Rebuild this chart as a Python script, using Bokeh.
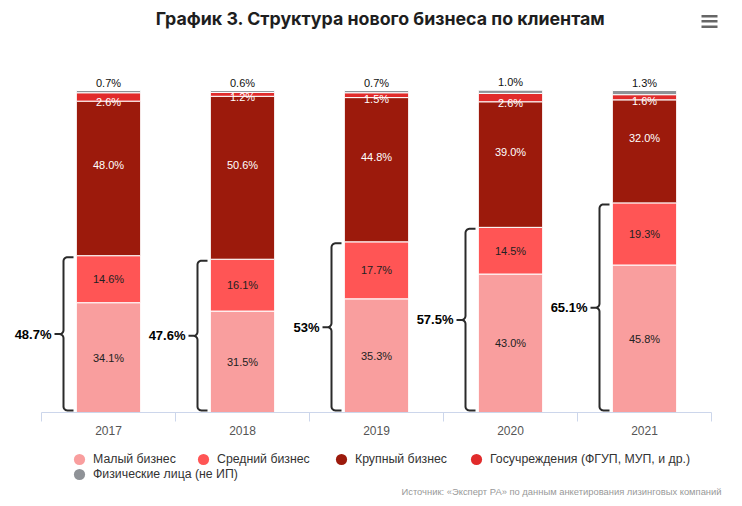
import math
from bokeh.plotting import figure
from bokeh.layouts import column
from bokeh.models import (ColumnDataSource, Range1d, FixedTicker, Label, Legend,
                          LegendItem, BoxAnnotation)
from bokeh.core.properties import value
from bokeh.embed import file_html
from bokeh.resources import INLINE

# ---------------- data ----------------
years = ["2017", "2018", "2019", "2020", "2021"]
small = [34.1, 31.5, 35.3, 43.0, 45.8]
medium = [14.6, 16.1, 17.7, 14.5, 19.3]
large = [48.0, 50.6, 44.8, 39.0, 32.0]
gov = [2.6, 1.2, 1.5, 2.6, 1.6]
phys = [0.7, 0.6, 0.7, 1.0, 1.3]
combined_labels = ["48.7%", "47.6%", "53%", "57.5%", "65.1%"]
series_names = ["Малый бизнес", "Средний бизнес", "Крупный бизнес",
                "Госучреждения (ФГУП, МУП, и др.)", "Физические лица (не ИП)"]
colors = ["#F99E9E", "#FF5555", "#9C1A0C", "#E12B2B", "#8F9297"]
title_text = "График 3. Структура нового бизнеса по клиентам"
source_text = "Источник: «Эксперт РА» по данным анкетирования лизинговых компаний"

# ---------------- layout ----------------
W = 742
H_MAIN = 440
H_LEG = 66
PX_X = 134.0      # px per category
PX_Y = 3.22       # px per percent
X0_PX = 108       # px of first category centre from frame left
FRAME_H = 412
BAR_W = 0.48

ux = 1.0 / PX_X
uy = 1.0 / PX_Y

p = figure(width=W, height=H_MAIN, output_backend="svg", toolbar_location=None,
           x_range=Range1d(-X0_PX / PX_X, (W - X0_PX) / PX_X),
           y_range=Range1d(0, FRAME_H / PX_Y),
           y_axis_location=None,
           min_border_left=0, min_border_right=0, min_border_top=0,
           min_border_bottom=H_MAIN - FRAME_H)
p.outline_line_color = None
p.xgrid.grid_line_color = None
p.ygrid.grid_line_color = None
p.background_fill_color = "white"

xs = list(range(len(years)))
src = ColumnDataSource(dict(x=xs, small=small, medium=medium, large=large,
                            gov=gov, phys=phys))
stackers = ["small", "medium", "large", "gov", "phys"]
p.vbar_stack(stackers, x="x", width=BAR_W, color=colors, line_color="white",
             line_width=1, source=src)

# ---------------- axis ----------------
ax = p.xaxis[0]
ax.ticker = FixedTicker(ticks=xs, minor_ticks=[i - 0.5 for i in range(len(years) + 1)])
ax.major_label_overrides = {i: y for i, y in enumerate(years)}
ax.bounds = (-0.5, len(years) - 0.5)
ax.axis_line_color = "#ccd6eb"
ax.axis_line_width = 1
ax.major_tick_line_color = None
ax.major_tick_out = 0
ax.major_tick_in = 0
ax.minor_tick_line_color = "#ccd6eb"
ax.minor_tick_out = 9
ax.minor_tick_in = 0
ax.major_label_standoff = 4
ax.major_label_text_font = "Liberation Sans"
ax.major_label_text_font_size = "12px"
ax.major_label_text_color = "#555555"

# ---------------- segment labels ----------------
c1 = [s for s in small]
c2 = [s + m for s, m in zip(small, medium)]
c3 = [a + l for a, l in zip(c2, large)]
c4 = [a + g for a, g in zip(c3, gov)]
c5 = [a + f for a, f in zip(c4, phys)]

def fmt(v):
    return f"{v:.1f}%"

font = value("Liberation Sans")
fs = value("11px")

p.text(x=xs + xs, y=[v / 2 for v in small] + [(a + b) / 2 for a, b in zip(c1, c2)],
       text=[fmt(v) for v in small] + [fmt(v) for v in medium],
       text_font=font, text_font_size=fs, text_align="center",
       text_baseline="middle", text_color="#222222")
p.text(x=xs, y=[(a + b) / 2 for a, b in zip(c2, c3)], text=[fmt(v) for v in large],
       text_font=font, text_font_size=fs, text_align="center",
       text_baseline="middle", text_color="white", y_offset=-13)
p.text(x=xs, y=c3, text=[fmt(v) for v in gov],
       text_font=font, text_font_size=fs, text_align="center",
       text_baseline="middle", text_color="white", y_offset=1)
p.text(x=xs, y=c5, text=[fmt(v) for v in phys],
       text_font=font, text_font_size=fs, text_align="center",
       text_baseline="bottom", text_color="#111111", y_offset=-2)

# ---------------- braces ----------------
R = 4  # corner radius px
def arc(cx, cy, a0, a1, n=6):
    pts = []
    for k in range(n + 1):
        t = math.radians(a0 + (a1 - a0) * k / n)
        pts.append((cx + R * ux * math.cos(t), cy + R * uy * math.sin(t)))
    return pts

brace_xs, brace_ys = [], []
for i, top in zip(xs, c2):
    xv = i - 45 * ux
    xtip = i - 35 * ux
    xnib = i - 54 * ux
    t = top - 1.5 * uy
    b = 0 + 2 * uy
    mid = top / 2
    pts = [(xtip, t)]
    pts += arc(xv + R * ux, t - R * uy, 90, 180)
    pts += arc(xv - R * ux, mid + R * uy, 0, -90)
    pts += [(xnib, mid), (xv - R * ux, mid)]
    pts += arc(xv - R * ux, mid - R * uy, 90, 0)
    pts += arc(xv + R * ux, b + R * uy, 180, 270)
    pts += [(xtip, b)]
    brace_xs.append([q[0] for q in pts])
    brace_ys.append([q[1] for q in pts])
p.multi_line(xs=brace_xs, ys=brace_ys, line_color="#2a2a2a", line_width=2)

p.text(x=[i - 54 * ux for i in xs], y=[v / 2 for v in c2], text=combined_labels,
       text_font=font, text_font_size=value("13px"), text_font_style="bold",
       text_align="right", text_baseline="middle", text_color="#000000", x_offset=-3)

# ---------------- title / menu ----------------
p.add_layout(Label(x=380, y=FRAME_H - 18, x_units="screen", y_units="screen",
                   text=title_text, text_align="center", text_baseline="middle",
                   text_font="Inter", text_font_size="17.8px", text_font_style="bold",
                   text_color="#1e1e1e"))
for yy in (15.7, 20.8, 26.2):
    p.add_layout(BoxAnnotation(left=701, right=717, top=FRAME_H - yy + 1.3,
                               bottom=FRAME_H - yy - 1.3,
                               left_units="screen", right_units="screen",
                               top_units="screen", bottom_units="screen",
                               fill_color="#666666", fill_alpha=1, line_color=None))

# ---------------- legend figure ----------------
q = figure(width=W, height=H_LEG, output_backend="svg", toolbar_location=None,
           x_range=Range1d(0, 1), y_range=Range1d(0, 1),
           x_axis_location=None, y_axis_location=None,
           min_border_left=0, min_border_right=0, min_border_top=0,
           min_border_bottom=0)
q.outline_line_color = None
q.xgrid.grid_line_color = None
q.ygrid.grid_line_color = None

nan = float("nan")
legend_locs = [(65, 33), (189, 33), (327, 33), (462, 33), (65, 18)]
for name, col, loc in zip(series_names, colors, legend_locs):
    r = q.scatter(x=[nan], y=[nan], marker="circle", size=11, fill_color=col,
                  line_color=None)
    leg = Legend(items=[LegendItem(label=name, renderers=[r])], location=loc,
                 orientation="horizontal", padding=0, spacing=0, margin=0,
                 glyph_width=28, glyph_height=28, label_standoff=0,
                 border_line_color=None, background_fill_alpha=0,
                 label_text_font="Liberation Sans", label_text_font_size="12.3px",
                 label_text_color="#333333")
    q.add_layout(leg)

q.add_layout(Label(x=721, y=H_LEG - 51, x_units="screen", y_units="screen",
                   text=source_text, text_align="right", text_baseline="middle",
                   text_font="Liberation Sans", text_font_size="9.4px",
                   text_color="#999999"))

open("out.html", "w").write(file_html(column(p, q, spacing=0), INLINE))
